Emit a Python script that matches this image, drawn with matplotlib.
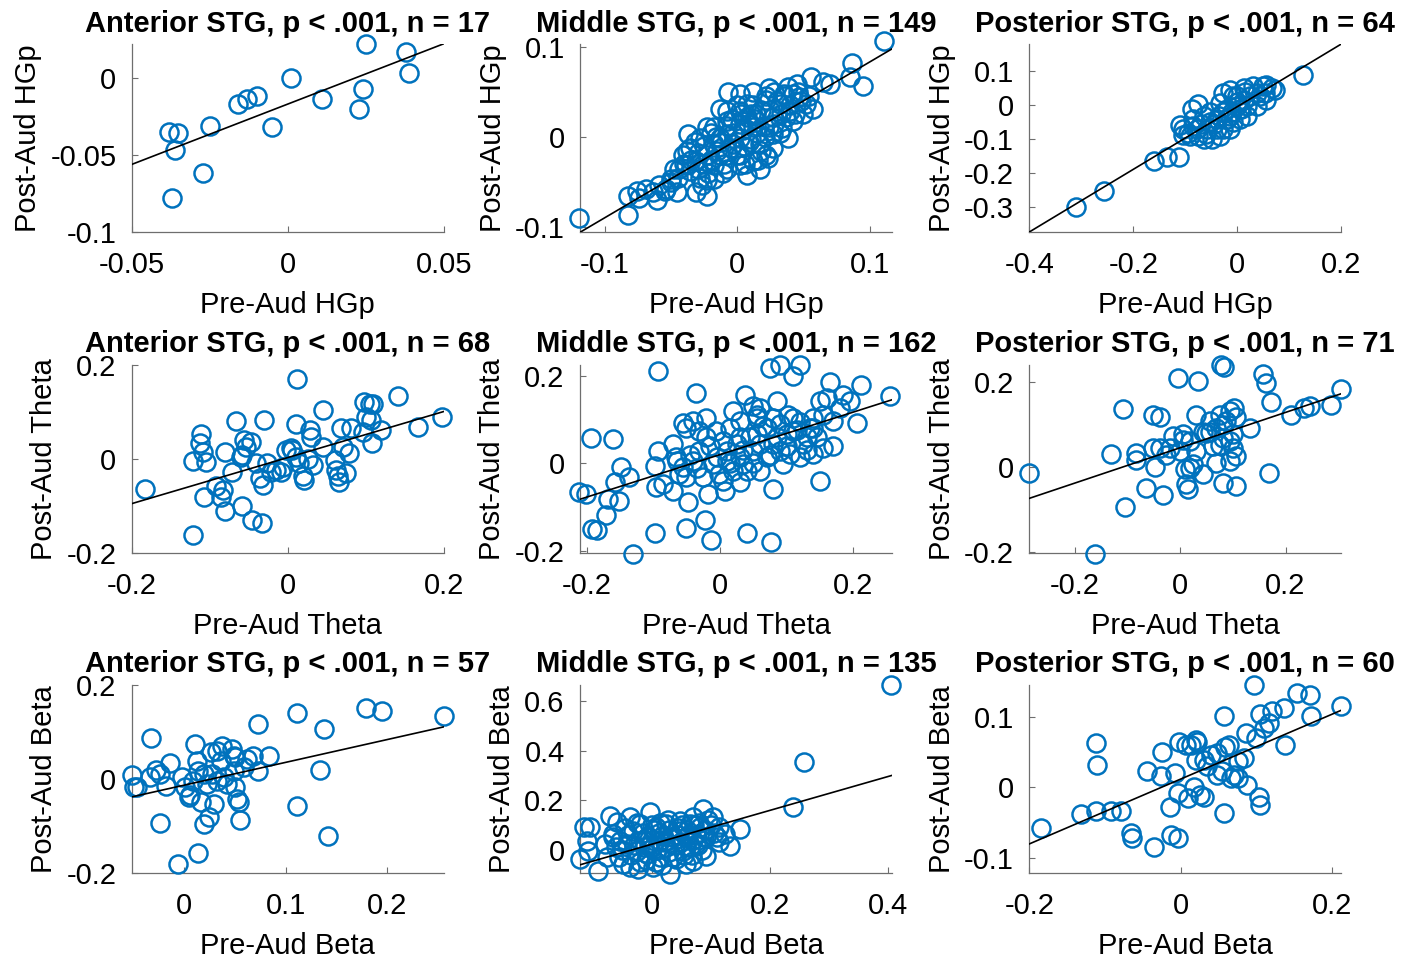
import numpy as np
import matplotlib
matplotlib.use("Agg")
import matplotlib.pyplot as plt
from matplotlib.ticker import FuncFormatter

plt.rcParams["font.family"] = ["Liberation Sans", "DejaVu Sans"]
plt.rcParams["axes.unicode_minus"] = False

# ─── Data ─────────────────────────────────────────────────────────────────────
# High-gamma power
ant_hgp_x = [-0.038, -0.035, -0.036, -0.037, -0.027, -0.025, -0.016, -0.013, -0.010,
             -0.005, 0.001, 0.011, 0.023, 0.024, 0.025, 0.038, 0.039]
ant_hgp_y = [-0.035, -0.036, -0.047, -0.078, -0.062, -0.031, -0.017, -0.014, -0.012,
             -0.032, 0.000, -0.014, -0.020, -0.007, 0.022, 0.017, 0.003]

mid_hgp_x = [-0.120, -0.083, -0.083, -0.076, -0.074, -0.064, -0.061, -0.054, -0.050, -0.046,
             -0.039, -0.037, -0.031, -0.027, -0.023, -0.030, -0.018, -0.013, -0.007, 0.002,
             0.012, 0.024, 0.038, 0.023, 0.022, 0.035, 0.045, 0.056, 0.057, 0.065,
             0.070, 0.085, 0.087, 0.095, 0.111, 0.007, 0.002, -0.008, -0.036, -0.041,
             -0.023, -0.008, -0.018, 0.002, 0.012, 0.027, 0.040, 0.047, 0.014, 0.007,
             0.027, 0.017, -0.008, -0.018, -0.031, -0.003, -0.013, 0.022, 0.032, 0.042,
             0.050, 0.052, 0.002, 0.009, 0.027, -0.028, -0.036, -0.018, 0.002, -0.008,
             0.012, 0.042, 0.037, 0.007, -0.013, -0.023, -0.044, -0.059, -0.069, -0.023,
             0.017, 0.024, -0.008, 0.002,
             -0.035, -0.030, -0.025, -0.020, -0.015, -0.012, -0.010, -0.005, -0.003, 0.000,
             0.004, 0.005, 0.008, 0.010, 0.013, 0.015, 0.018, 0.020, 0.025, 0.028,
             0.030, 0.033, 0.036, 0.040, 0.044, 0.048, -0.028, -0.022, -0.016, -0.040,
             -0.045, -0.050, 0.003, 0.018, 0.032, -0.008, 0.022, 0.012,
             -0.038, -0.032, -0.026, -0.020, -0.011, -0.004, 0.006, 0.010, 0.016, 0.021,
             0.028, 0.034, 0.038, 0.046, 0.054, -0.048, -0.055, 0.000]
mid_hgp_y = [-0.090, -0.086, -0.065, -0.060, -0.067, -0.061, -0.070, -0.057, -0.046, -0.061,
             -0.031, 0.003, -0.061, -0.053, -0.048, -0.018, 0.011, 0.031, 0.050, 0.029,
             0.050, 0.054, -0.001, -0.023, -0.020, 0.048, 0.059, 0.067, 0.031, 0.061,
             0.059, 0.067, 0.082, 0.056, 0.106, -0.042, -0.031, -0.035, -0.038, -0.020,
             0.011, 0.018, -0.008, -0.001, 0.011, 0.022, 0.029, 0.044, 0.026, 0.037,
             0.003, -0.008, -0.020, -0.031, -0.027, -0.008, -0.001, 0.041, 0.037, 0.018,
             0.026, 0.037, 0.014, -0.005, -0.012, -0.001, -0.012, -0.046, -0.020, 0.003,
             -0.027, 0.048, 0.022, 0.022, -0.020, -0.020, -0.035, -0.053, -0.057, -0.065,
             -0.035, 0.011, 0.029, 0.048,
             -0.025, -0.035, -0.010, -0.025, -0.015, -0.005, -0.030, -0.012, 0.005, -0.020,
             0.008, -0.010, 0.015, -0.002, 0.020, 0.005, 0.030, 0.012, 0.030, 0.015,
             0.040, 0.025, 0.045, 0.035, 0.025, 0.040, -0.045, -0.040, 0.000, -0.030,
             -0.045, -0.050, 0.025, -0.015, 0.005, 0.012, 0.045, 0.035,
             -0.015, -0.005, -0.030, 0.005, -0.040, 0.020, -0.030, 0.025, -0.025, 0.000,
             0.050, 0.010, 0.055, 0.050, 0.045, -0.035, -0.060, 0.035]

post_hgp_x = [-0.310, -0.256, -0.161, -0.136, -0.113, -0.111, -0.104, -0.091, -0.088, -0.075,
              -0.065, -0.078, -0.059, -0.049, -0.033, -0.027, -0.040, -0.014, -0.033, -0.027,
              -0.014, -0.001, 0.012, 0.012, 0.024, 0.037, 0.050, 0.056, 0.072, 0.056,
              0.037, 0.018, 0.005, -0.008, -0.020, -0.053, -0.065, -0.027, -0.008, -0.001,
              0.031, 0.044, 0.127, -0.085, -0.104, -0.075, -0.040, 0.005, -0.014, -0.053,
              0.018, 0.053, 0.066, -0.095, -0.085, -0.070, -0.060, -0.045, -0.035, -0.020,
              -0.010, 0.000, 0.008, 0.015]
post_hgp_y = [-0.300, -0.251, -0.164, -0.152, -0.152, -0.058, -0.087, -0.089, -0.012, 0.003,
              -0.031, -0.070, -0.070, -0.099, -0.089, -0.070, -0.041, 0.046, 0.008, -0.021,
              -0.031, -0.002, 0.051, 0.017, 0.027, 0.037, 0.056, 0.061, 0.046, 0.017,
              -0.002, -0.031, -0.041, -0.050, -0.012, -0.021, -0.099, 0.037, 0.027, 0.027,
              0.056, 0.027, 0.090, -0.041, -0.070, -0.089, -0.070, -0.012, -0.070, -0.050,
              -0.002, 0.037, 0.051, -0.080, -0.060, -0.055, -0.085, -0.055, -0.030, -0.040,
              -0.020, 0.010, -0.010, 0.040]

# Theta power
ant_theta_x = [-0.183, -0.121, -0.122, -0.111, -0.113, -0.109, -0.105, -0.107, -0.092, -0.083,
               -0.086, -0.081, -0.081, -0.066, -0.071, -0.060, -0.058, -0.058, -0.056, -0.047,
               -0.046, -0.033, -0.036, -0.032, -0.030, -0.027, -0.021, -0.015, -0.009, -0.002,
               0.004, 0.006, 0.010, 0.012, 0.015, 0.019, 0.021, 0.026, 0.028, 0.030,
               0.033, 0.045, 0.060, 0.062, 0.064, 0.066, 0.068, 0.071, 0.075, 0.078,
               0.081, 0.096, 0.098, 0.101, 0.105, 0.107, 0.108, 0.109, 0.120, 0.141,
               0.167, 0.198, -0.053, 0.011, -0.006, -0.041, 0.045]
ant_theta_y = [-0.064, -0.161, -0.004, 0.054, 0.033, 0.015, -0.006, -0.080, -0.058, -0.065,
               -0.080, -0.111, 0.015, 0.081, -0.027, 0.005, 0.008, -0.101, 0.040, 0.037,
               -0.129, -0.136, -0.041, -0.055, 0.082, -0.009, -0.027, -0.023, -0.027, 0.019,
               0.023, 0.019, 0.075, 0.170, -0.009, -0.037, -0.044, 0.001, 0.061, 0.047,
               -0.013, 0.104, -0.002, -0.023, -0.037, -0.048, 0.065, 0.026, -0.030, 0.012,
               0.065, 0.058, 0.121, 0.089, 0.118, 0.082, 0.033, 0.118, 0.061, 0.135,
               0.068, 0.089, 0.026, 0.005, -0.016, -0.009, 0.026]

mid_theta_x = [-0.212, -0.201, -0.192, -0.185, -0.193, -0.161, -0.171, -0.168, -0.152, -0.158,
               -0.148, -0.136, -0.131, -0.098, -0.093, -0.098, -0.093, -0.096, -0.086, -0.071,
               -0.066, -0.071, -0.056, -0.051, -0.048, -0.051, -0.036, -0.023, -0.013, -0.018,
               0.007, 0.030, 0.037, 0.040, 0.050, 0.060, 0.077, 0.080, 0.075, 0.090,
               0.110, 0.120, 0.085, 0.102, 0.110, 0.140, 0.150, 0.155, 0.165, 0.170,
               0.185, 0.195, 0.205, 0.212, 0.255, 0.150, 0.140, 0.120, 0.020, 0.015,
               0.030, 0.055, 0.070, 0.080, 0.090, 0.105, 0.110, 0.130, 0.135, -0.021,
               -0.031, -0.041, -0.056, -0.011, 0.010, 0.030, 0.050, 0.070, 0.040, 0.020,
               -0.001, -0.026, -0.051, -0.061, -0.041, -0.021, -0.006, -0.031, 0.030, 0.055,
               0.080, 0.100, 0.125, 0.095, 0.060, 0.035, 0.010, 0.180, 0.160, 0.170,
               -0.045, -0.035, -0.015, -0.005, 0.005, 0.015, 0.025, 0.035, 0.045, 0.050,
               0.060, 0.065, 0.075, 0.085, 0.090, 0.100, 0.115, 0.120, 0.130, 0.140,
               0.155, 0.145, -0.065, 0.005, 0.055]
mid_theta_y = [-0.065, -0.069, -0.150, -0.152, 0.057, 0.055, -0.118, -0.080, -0.086, -0.043,
               -0.009, -0.032, -0.206, -0.158, 0.211, -0.005, 0.029, -0.054, -0.047, 0.044,
               0.014, -0.062, 0.092, 0.081, -0.088, -0.146, 0.160, -0.129, -0.174, -0.069,
               -0.062, -0.043, 0.156, -0.159, 0.130, 0.126, -0.178, -0.058, 0.217, 0.224,
               0.198, 0.224, 0.141, 0.111, 0.074, 0.021, -0.039, 0.036, 0.186, 0.040,
               0.156, 0.141, 0.092, 0.179, 0.153, 0.141, 0.104, 0.014, 0.119, 0.081,
               0.059, 0.104, 0.081, 0.044, 0.029, 0.021, 0.104, 0.059, 0.081, 0.059,
               0.029, 0.006, -0.009, -0.002, 0.029, 0.014, 0.029, 0.014, -0.017, -0.017,
               -0.024, -0.032, -0.032, -0.024, 0.096, 0.104, 0.074, 0.074, 0.096, 0.066,
               0.104, 0.066, 0.044, -0.002, -0.017, -0.002, 0.006, 0.126, 0.149, 0.096,
               0.020, -0.010, 0.040, 0.015, 0.050, 0.000, 0.045, 0.030, 0.060, 0.000,
               0.045, 0.085, 0.020, 0.060, 0.090, 0.040, 0.075, 0.095, 0.030, 0.080,
               0.110, 0.060, 0.005, -0.040, 0.110]

post_theta_x = [-0.287, -0.163, -0.106, -0.131, -0.109, -0.084, -0.084, -0.065, -0.052, -0.039,
                -0.052, -0.049, -0.033, -0.039, -0.027, -0.014, -0.004, 0.005, 0.005, 0.008,
                0.018, 0.024, 0.011, 0.015, 0.043, 0.030, 0.034, 0.049, 0.056, 0.062,
                0.068, 0.075, 0.078, 0.084, 0.081, 0.094, 0.100, 0.106, 0.106, 0.094,
                0.081, 0.075, 0.094, 0.106, 0.103, 0.132, 0.157, 0.163, 0.173, 0.168,
                0.211, 0.236, 0.246, 0.287, 0.306, 0.018, 0.043, 0.056, 0.087, 0.068,
                0.030, -0.020, 0.081, 0.100, -0.001]
post_theta_y = [-0.015, -0.205, -0.094, 0.031, 0.136, 0.033, 0.017, -0.049, 0.122, 0.118,
                0.045, 0.000, -0.066, 0.045, 0.029, 0.072, 0.208, 0.076, 0.064, -0.006,
                -0.002, 0.006, -0.041, -0.052, -0.017, 0.122, 0.202, 0.080, 0.083, 0.049,
                0.010, 0.122, 0.240, 0.235, -0.037, 0.014, 0.045, -0.045, 0.025, 0.060,
                0.068, 0.052, 0.130, 0.118, 0.138, 0.091, 0.219, 0.196, 0.153, -0.014,
                0.122, 0.138, 0.142, 0.146, 0.182, 0.060, 0.083, 0.107, 0.107, 0.091,
                0.037, 0.045, 0.099, 0.076, 0.037]

# Beta power
ant_beta_x = [-0.052, -0.050, -0.047, -0.033, -0.034, -0.028, -0.024, -0.018, -0.014, -0.024,
              -0.006, -0.002, 0.001, 0.005, 0.006, 0.010, 0.012, 0.013, 0.013, 0.016,
              0.019, 0.024, 0.022, 0.027, 0.029, 0.026, 0.032, 0.037, 0.036, 0.039,
              0.042, 0.047, 0.049, 0.049, 0.050, 0.052, 0.054, 0.055, 0.050, 0.062,
              0.068, 0.073, 0.073, 0.084, 0.111, 0.111, 0.134, 0.138, 0.142, 0.179,
              0.195, 0.256, 0.019, 0.032, 0.009, 0.059]
ant_beta_y = [0.009, -0.018, -0.018, 0.088, 0.004, 0.019, 0.011, -0.014, 0.035, -0.094,
              -0.180, 0.005, -0.018, -0.039, -0.035, 0.074, 0.039, 0.018, -0.158, -0.049,
              -0.095, -0.081, -0.011, 0.011, -0.053, 0.057, 0.060, 0.071, 0.039, 0.004,
              -0.011, 0.064, 0.049, 0.018, -0.018, -0.042, -0.049, -0.088, 0.046, 0.042,
              0.049, 0.018, 0.117, 0.048, 0.141, -0.057, 0.019, 0.106, -0.122, 0.152,
              0.145, 0.134, 0.011, -0.004, -0.004, 0.025]

mid_beta_x = [0.406, 0.258, 0.239, -0.115, -0.110, -0.107, -0.121, -0.090, -0.070, -0.059,
              -0.079, -0.048, -0.037, -0.023, 0.031, 0.059, 0.087, 0.104, 0.115, 0.149,
              0.132, 0.124, -0.003, -0.020, -0.031, -0.042, -0.008, 0.008, 0.025, 0.048,
              0.065, 0.082, 0.093, 0.076, 0.054, 0.037, 0.014, -0.008, -0.025, -0.054,
              -0.065, 0.014, 0.037, 0.059, 0.025, 0.003, -0.020, 0.070, 0.048, -0.037,
              0.093, 0.110, -0.104, -0.076, 0.003, 0.070,
              -0.050, -0.040, -0.030, -0.015, -0.010, 0.000, 0.005, 0.010, 0.020, 0.030,
              0.030, 0.040, 0.045, 0.050, 0.060, 0.065, 0.075, 0.080, 0.085, 0.090,
              0.100, -0.060, 0.015, 0.055, -0.020, 0.045, -0.005, 0.070,
              -0.065, -0.045, -0.035, -0.025, -0.012, 0.000, 0.008, 0.012, 0.022, 0.028,
              0.035, 0.042, 0.052, 0.058, 0.062, 0.072, 0.078, 0.088, 0.095, 0.105,
              0.115, -0.055, 0.018, 0.068]
mid_beta_y = [0.664, 0.355, 0.171, 0.091, 0.037, -0.003, -0.036, -0.083, 0.137, 0.111,
              0.024, -0.056, -0.069, -0.076, -0.096, -0.056, 0.164, 0.131, 0.091, 0.084,
              0.017, 0.064, 0.151, 0.104, 0.077, 0.024, 0.051, 0.091, 0.104, 0.117,
              0.104, 0.091, 0.051, 0.024, -0.003, -0.029, -0.029, -0.016, -0.003, 0.037,
              0.064, 0.037, 0.051, 0.051, 0.011, 0.011, 0.037, 0.131, 0.077, 0.131,
              -0.023, 0.051, 0.091, -0.029, -0.069, -0.043,
              0.000, 0.060, 0.020, 0.070, -0.040, 0.040, 0.080, 0.000, 0.060, -0.010,
              0.080, 0.020, 0.090, 0.030, 0.080, 0.010, 0.060, 0.110, 0.000, 0.080,
              0.100, 0.010, 0.110, -0.020, -0.050, 0.060, 0.020, 0.040,
              0.050, 0.090, -0.020, 0.110, 0.010, 0.100, -0.050, 0.070, 0.030, 0.120,
              0.050, -0.035, 0.100, 0.010, 0.060, 0.100, 0.020, 0.050, 0.120, 0.070,
              0.030, -0.030, -0.060, -0.020]

post_beta_x = [-0.184, -0.132, -0.112, -0.092, -0.079, -0.112, -0.111, -0.066, -0.064, -0.035,
               -0.045, -0.026, -0.025, -0.014, -0.013, -0.004, -0.007, -0.004, -0.002, 0.007,
               0.013, 0.020, 0.022, 0.009, 0.018, 0.020, 0.026, 0.031, 0.035, 0.040,
               0.048, 0.055, 0.057, 0.057, 0.059, 0.064, 0.066, 0.070, 0.075, 0.084,
               0.088, 0.086, 0.097, 0.099, 0.103, 0.105, 0.105, 0.110, 0.116, 0.121,
               0.136, 0.138, 0.154, 0.171, 0.172, 0.211, 0.075, 0.048, 0.031]
post_beta_y = [-0.058, -0.038, -0.033, -0.033, -0.033, 0.063, 0.032, -0.065, -0.072, -0.084,
               0.024, 0.016, 0.051, -0.028, -0.067, -0.072, 0.020, -0.008, 0.064, 0.061,
               0.061, 0.068, 0.064, -0.015, 0.001, 0.039, -0.010, 0.039, 0.030, 0.046,
               0.049, 0.023, 0.101, -0.036, 0.058, 0.061, 0.013, 0.018, 0.037, 0.042,
               0.004, 0.077, 0.146, 0.070, -0.013, -0.025, 0.105, 0.084, 0.091, 0.108,
               0.113, 0.060, 0.134, 0.131, 0.101, 0.116, 0.013, 0.018, -0.013]

# Regression lines (slope, intercept)
fits = [(0.783, -0.017), (0.86, -0.003), (0.92, -0.004),
        (0.49, 0.003), (0.484, 0.020), (0.414, 0.045),
        (0.484, -0.013), (0.682, 0.0225), (0.461, 0.012)]

regions = ["Anterior", "Middle", "Posterior"]
n_elec = [[17, 149, 64], [68, 162, 71], [57, 135, 60]]
bands = ["HGp", "Theta", "Beta"]

data = [[(ant_hgp_x, ant_hgp_y), (mid_hgp_x, mid_hgp_y), (post_hgp_x, post_hgp_y)],
        [(ant_theta_x, ant_theta_y), (mid_theta_x, mid_theta_y), (post_theta_x, post_theta_y)],
        [(ant_beta_x, ant_beta_y), (mid_beta_x, mid_beta_y), (post_beta_x, post_beta_y)]]

# ─── Axis ranges / ticks ──────────────────────────────────────────────────────
xlims = [[(-0.05, 0.05), (-0.119, 0.117), (-0.4, 0.2)],
         [(-0.2, 0.2), (-0.21, 0.258), (-0.287, 0.306)],
         [(-0.052, 0.256), (-0.121, 0.407), (-0.2, 0.212)]]
ylims = [[(-0.1, 0.022), (-0.105, 0.103), (-0.372, 0.18)],
         [(-0.2, 0.2), (-0.204, 0.224), (-0.202, 0.239)],
         [(-0.2, 0.2), (-0.093, 0.664), (-0.1215, 0.1456)]]
xticks = [[[-0.05, 0, 0.05], [-0.1, 0, 0.1], [-0.4, -0.2, 0, 0.2]],
          [[-0.2, 0, 0.2], [-0.2, 0, 0.2], [-0.2, 0, 0.2]],
          [[0, 0.1, 0.2], [0, 0.2, 0.4], [-0.2, 0, 0.2]]]
yticks = [[[-0.1, -0.05, 0], [-0.1, 0, 0.1], [-0.3, -0.2, -0.1, 0, 0.1]],
          [[-0.2, 0, 0.2], [-0.2, 0, 0.2], [-0.2, 0, 0.2]],
          [[-0.2, 0, 0.2], [0, 0.2, 0.4, 0.6], [-0.1, 0, 0.1]]]

# ─── Plot ─────────────────────────────────────────────────────────────────────
BLUE = "#0072BD"
W, H = 1417, 959
FS = 21
fig = plt.figure(figsize=(W / 100, H / 100), dpi=100)

lefts = [131.7, 580.0, 1029.3]
bottoms = [232.0, 553.0, 873.0]
aw, ah = 312.0, 188.0
fmt = FuncFormatter(lambda v, p: "%g" % round(v, 4))

for r in range(3):
    for c in range(3):
        ax = fig.add_axes([lefts[c] / W, 1 - bottoms[r] / H, aw / W, ah / H])
        x, y = data[r][c]
        ax.plot(x, y, "o", mfc="none", mec=BLUE, ms=13, mew=1.8, clip_on=False, zorder=3)
        k, b = fits[r * 3 + c]
        xl = np.array(xlims[r][c])
        ax.plot(xl, k * xl + b, color="black", lw=1.2, zorder=4)
        ax.set_xlim(xl)
        ax.set_ylim(ylims[r][c])
        ax.set_xticks(xticks[r][c])
        ax.set_yticks(yticks[r][c])
        ax.xaxis.set_major_formatter(fmt)
        ax.yaxis.set_major_formatter(fmt)
        for s in ["top", "right"]:
            ax.spines[s].set_visible(False)
        for s in ["left", "bottom"]:
            ax.spines[s].set_color("#6e6e6e")
            ax.spines[s].set_linewidth(0.9)
        ax.tick_params(direction="in", length=4, width=0.8, color="#6e6e6e",
                       labelsize=FS, labelcolor="black")
        ax.tick_params(axis="x", pad=14)
        ax.tick_params(axis="y", pad=11)
        ax.set_title(f"{regions[c]} STG, p < .001, n = {n_elec[r][c]}",
                     fontsize=FS, fontweight="bold", pad=9)
        ax.set_xlabel(f"Pre-Aud {bands[r]}", fontsize=FS, labelpad=8)
        ax.set_ylabel(f"Post-Aud {bands[r]}", fontsize=FS, labelpad=6)

fig.savefig("out.png", dpi=100)
